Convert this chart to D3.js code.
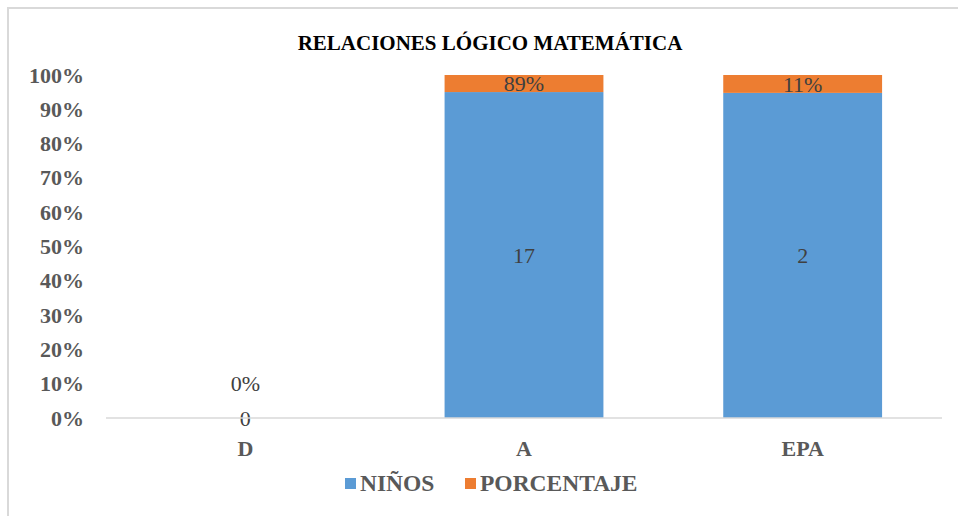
<!DOCTYPE html>
<html>
<head>
<meta charset="utf-8">
<script src="https://cdn.jsdelivr.net/npm/d3@7"></script>
<style>
  body { margin: 0; background: #fff; }
  text { font-family: "Liberation Serif", "Times New Roman", serif; }
</style>
</head>
<body>
<div id="chart"></div>
<script>
// datos del grafico
var categories = ["D", "A", "EPA"];
var ninos = [0, 17, 2];
var porcentaje = [0, 0.89, 0.11];
var series_names = ["NIÑOS", "PORCENTAJE"];
var y_ticks = [0, 0.1, 0.2, 0.3, 0.4, 0.5, 0.6, 0.7, 0.8, 0.9, 1];

function build_rows(){
    var rows = [];
    for (var i = 0; i < categories.length; i ++){
        rows.push({cat: categories[i], "NIÑOS": ninos[i], "PORCENTAJE": porcentaje[i]});
    }
    return rows;
}

function draw_chart(rows){
    var width = 958,
        height = 516;
    var margin = {left: 106, right: 16, top: 75, bottom: 98};

    var color = d3.scaleOrdinal().domain(series_names).range(["#5b9bd5", "#ed7d31"]);

    var svg = d3.select("#chart").append("svg")
        .attr("width", width)
        .attr("height", height);

    // borde del area del grafico
    svg.append("rect")
        .attr("x", 8).attr("y", 8)
        .attr("width", 1000).attr("height", 600)
        .attr("fill", "none")
        .attr("stroke", "#d9d9d9")
        .attr("stroke-width", 2);

    var x = d3.scaleBand()
        .domain(categories)
        .range([margin.left, width - margin.right])
        .paddingInner(0.43)
        .paddingOuter(0.215);

    var y = d3.scaleLinear()
        .domain([0, 1])
        .range([height - margin.bottom, margin.top]);

    var stack = d3.stack()
        .keys(series_names)
        .offset(d3.stackOffsetExpand);
    var stacked = stack(rows);

    // titulo
    svg.append("text")
        .attr("x", 490)
        .attr("y", 50)
        .attr("text-anchor", "middle")
        .style("font-size", "21px")
        .style("font-weight", "bold")
        .style("fill", "#000")
        .text("RELACIONES LÓGICO MATEMÁTICA");

    // eje y (solo etiquetas)
    var yAxis = svg.append("g")
        .attr("transform", "translate(" + 84 + ",0)")
        .call(d3.axisLeft(y).tickValues(y_ticks).tickFormat(d3.format(".0%")).tickSize(0).tickPadding(0));
    yAxis.select(".domain").remove();
    yAxis.selectAll("text")
        .style("font-family", "Liberation Serif")
        .style("font-size", "22px")
        .style("font-weight", "bold")
        .style("fill", "#595959");

    // barras
    var layer = svg.selectAll(".layer")
        .data(stacked)
        .enter().append("g")
        .attr("class", "layer")
        .attr("fill", function(d){ return color(d.key); });

    layer.selectAll("rect")
        .data(function(d){ return d; })
        .enter().append("rect")
        .attr("x", function(d){ return x(d.data.cat); })
        .attr("y", function(d){ return y(d[1]); })
        .attr("width", x.bandwidth())
        .attr("height", function(d){ return y(d[0]) - y(d[1]); });

    // eje x
    svg.append("line")
        .attr("x1", margin.left)
        .attr("x2", width - margin.right)
        .attr("y1", y(0))
        .attr("y2", y(0))
        .attr("stroke", "#d9d9d9")
        .attr("stroke-width", 1.5);

    var xAxis = svg.append("g")
        .attr("transform", "translate(0," + (y(0) + 22) + ")")
        .call(d3.axisBottom(x).tickSize(0).tickPadding(0));
    xAxis.select(".domain").remove();
    xAxis.selectAll("text")
        .style("font-family", "Liberation Serif")
        .style("font-size", "22px")
        .style("font-weight", "bold")
        .style("fill", "#595959");

    // etiquetas de datos
    layer.selectAll(".lbl")
        .data(function(d){ return d.map(function(v){ v.key = d.key; return v; }); })
        .enter().append("text")
        .attr("class", "lbl")
        .attr("x", function(d){ return x(d.data.cat) + x.bandwidth() / 2; })
        .attr("y", function(d){
            // la etiqueta de porcentaje en cero esta movida a mano en el original
            if (d.key == "PORCENTAJE" && d[1] - d[0] == 0) return y(0.1);
            return y((d[0] + d[1]) / 2);
        })
        .attr("dy", "0.35em")
        .attr("text-anchor", "middle")
        .style("font-size", "22px")
        .style("fill", "#404040")
        .text(function(d){
            if (d.key == "PORCENTAJE") return d3.format(".0%")(d.data[d.key]);
            return d.data[d.key];
        });

    // leyenda
    var legend_x = [345, 465];
    for (var i = 0; i < series_names.length; i ++){
        svg.append("rect")
            .attr("x", legend_x[i])
            .attr("y", 478)
            .attr("width", 11)
            .attr("height", 11)
            .attr("fill", color(series_names[i]));
        svg.append("text")
            .attr("x", legend_x[i] + 15)
            .attr("y", 491)
            .style("font-size", "23.5px")
            .style("font-weight", "bold")
            .style("fill", "#595959")
            .text(series_names[i]);
    }
}

draw_chart(build_rows());
</script>
</body>
</html>
